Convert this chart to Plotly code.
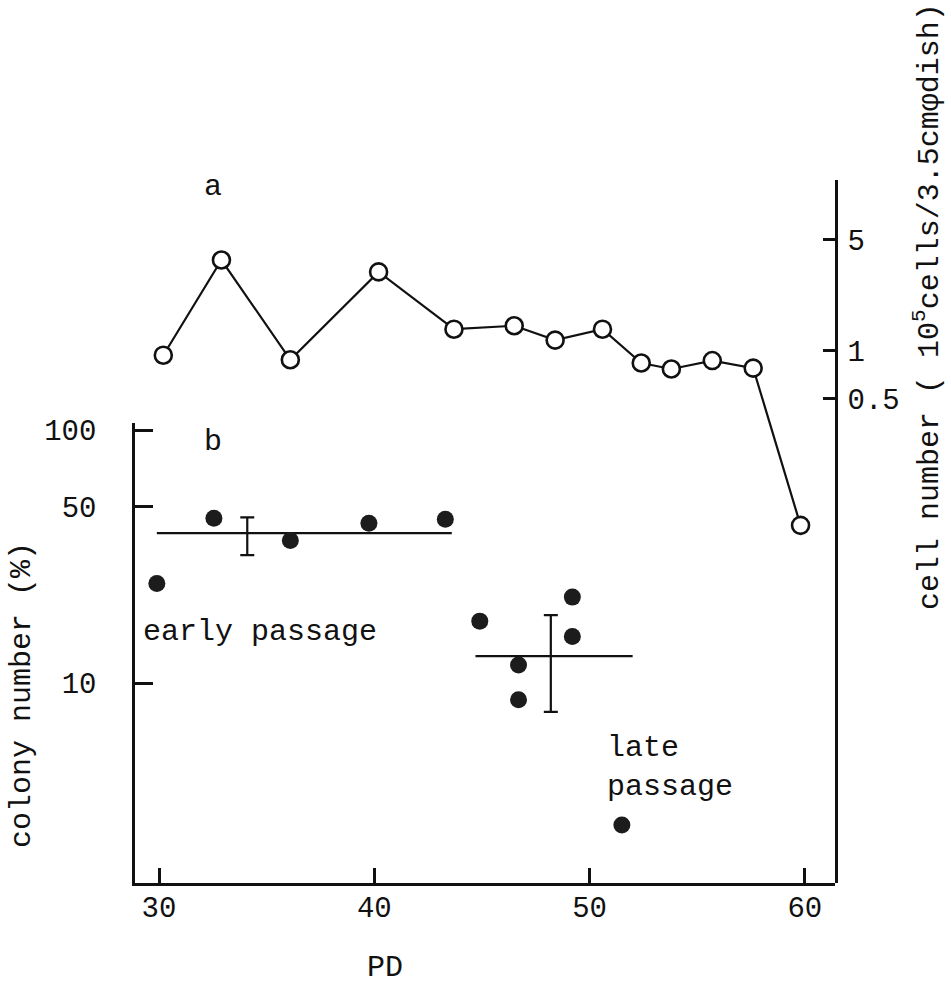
import plotly.graph_objects as go

# ---- data ----
# a: cell number (10^5 cells / 3.5 cm dish), right log axis
pd_a = [30.2, 32.9, 36.1, 40.2, 43.7, 46.5, 48.4, 50.6, 52.4, 53.8, 55.7, 57.6, 59.8]
cells_a = [0.94, 3.73, 0.88, 3.14, 1.37, 1.44, 1.17, 1.37, 0.84, 0.77, 0.87, 0.78, 0.080]

# b: colony number (%), left log axis
pd_early = [29.9, 32.55, 36.1, 39.75, 43.3]
col_early = [24.8, 44.9, 36.7, 42.9, 44.5]
pd_late = [44.9, 49.2, 49.2, 46.7, 46.7, 51.5]
col_late = [17.6, 21.9, 15.3, 11.8, 8.6, 2.75]

# means with spread
early_mean_x = [29.9, 43.6]
early_mean = 39.2
early_err_x = 34.1
early_hi, early_lo = 45.3, 32.1
late_mean_x = [44.7, 52.0]
late_mean = 12.8
late_err_x = 48.2
late_hi, late_lo = 18.6, 7.7

x_ticks = [30, 40, 50, 60]
left_ticks = [10, 50, 100]
right_ticks = [0.5, 1, 5]

FONT = "Liberation Mono, Courier New, monospace"
FS = 29
AFS = 30
INK = "#111111"

fig = go.Figure()

fig.add_trace(go.Scatter(
    x=pd_a, y=cells_a, xaxis="x", yaxis="y2", mode="lines+markers",
    line=dict(color=INK, width=2.2),
    marker=dict(symbol="circle", size=17, color="white", line=dict(color=INK, width=2.6)),
    showlegend=False, hoverinfo="skip"))

fig.add_trace(go.Scatter(
    x=early_mean_x, y=[early_mean, early_mean], xaxis="x", yaxis="y", mode="lines",
    line=dict(color=INK, width=2.2), showlegend=False, hoverinfo="skip"))
fig.add_trace(go.Scatter(
    x=late_mean_x, y=[late_mean, late_mean], xaxis="x", yaxis="y", mode="lines",
    line=dict(color=INK, width=2.2), showlegend=False, hoverinfo="skip"))

fig.add_trace(go.Scatter(
    x=[early_err_x, late_err_x], y=[early_mean, late_mean], xaxis="x", yaxis="y",
    mode="markers", marker=dict(size=2, color="rgba(0,0,0,0)"),
    error_y=dict(type="data", symmetric=False,
                 array=[early_hi - early_mean, late_hi - late_mean],
                 arrayminus=[early_mean - early_lo, late_mean - late_lo],
                 color=INK, thickness=2.2, width=7),
    showlegend=False, hoverinfo="skip"))

fig.add_trace(go.Scatter(
    x=pd_early + pd_late, y=col_early + col_late, xaxis="x", yaxis="y", mode="markers",
    marker=dict(symbol="circle", size=17, color="#1c1c1c", line=dict(width=0)),
    showlegend=False, hoverinfo="skip"))

axis_common = dict(showgrid=False, zeroline=False, showline=True, linecolor=INK,
                   linewidth=2.5, ticks="inside", tickcolor=INK, tickwidth=2.5,
                   tickfont=dict(family=FONT, size=FS, color=INK))

fig.update_layout(
    width=951, height=1001,
    margin=dict(l=135, r=116, t=180, b=118),
    paper_bgcolor="white", plot_bgcolor="rgba(0,0,0,0)",
    font=dict(family=FONT, size=FS, color=INK),
    xaxis=dict(range=[28.885, 61.4], tickvals=x_ticks, ticktext=[str(v) for v in x_ticks],
               ticklen=15, ticklabelstandoff=-4, **axis_common),
    yaxis=dict(type="log", range=[0.21, 2.028], domain=[0, 0.654], anchor="x", side="left",
               tickvals=left_ticks, ticktext=[str(v) for v in left_ticks],
               ticklen=18, ticklabelstandoff=30, **axis_common),
    yaxis2=dict(type="log", range=[-3.346, 1.075], domain=[0, 1], anchor="x", side="right",
                tickvals=right_ticks, ticktext=[str(v) for v in right_ticks],
                ticklen=12, ticklabelstandoff=4, **axis_common),
)


def px_x(px):
    return (px - 135) / 700


def px_y(py):
    return (883 - py) / 703


ann = [
    dict(text="a", x=px_x(213), y=px_y(187)),
    dict(text="b", x=px_x(213), y=px_y(442)),
    dict(text="early passage", x=px_x(141), y=px_y(632), xanchor="left"),
    dict(text="late<br>passage", x=px_x(605), y=px_y(767), xanchor="left", align="left"),
    dict(text="PD", x=px_x(385), y=px_y(968)),
    dict(text="colony number (%)", x=px_x(22), y=px_y(695), textangle=-90),
    dict(text="cell number ( 10<sup>5</sup>cells/3.5cmφdish)", x=px_x(927),
         y=px_y(307), textangle=-90),
]
for a in ann:
    a.setdefault("xanchor", "center")
    a["yanchor"] = "middle"
    a["xref"] = "paper"
    a["yref"] = "paper"
    a["showarrow"] = False
    a["font"] = dict(family=FONT, size=AFS, color=INK)
fig.update_layout(annotations=ann)

fig.write_html("out.html")
